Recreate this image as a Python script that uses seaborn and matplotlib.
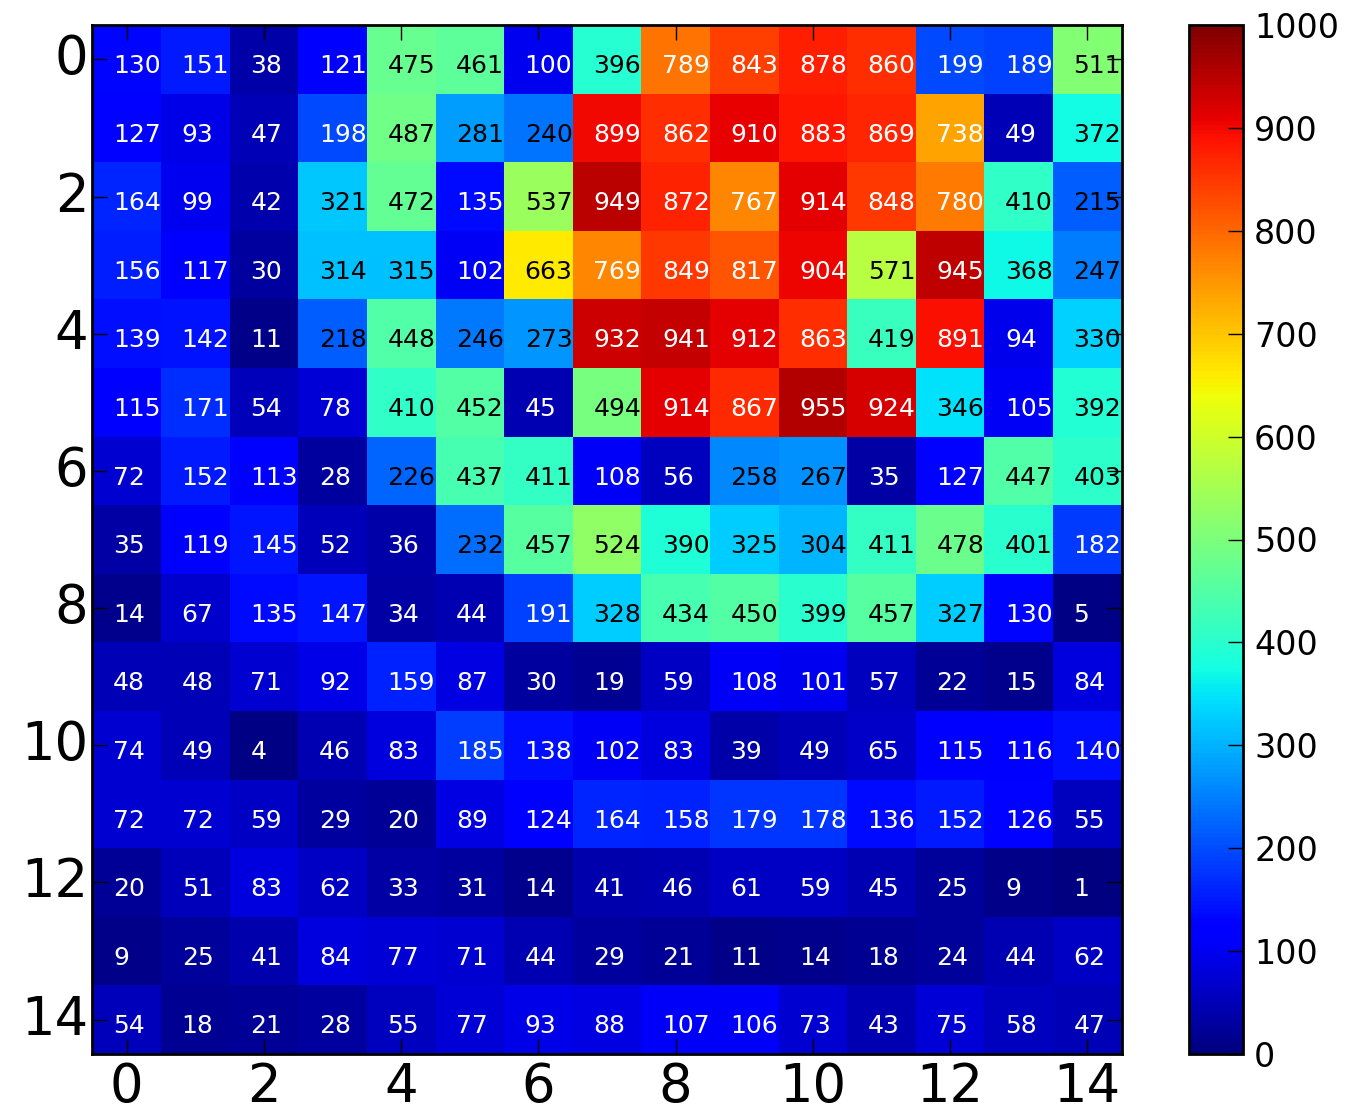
import numpy as np
import pandas as pd
import matplotlib
matplotlib.use("Agg")
import matplotlib.pyplot as plt
import seaborn as sns

row00 = [130, 151, 38, 121, 475, 461, 100, 396, 789, 843, 878, 860, 199, 189, 511]
row01 = [127, 93, 47, 198, 487, 281, 240, 899, 862, 910, 883, 869, 738, 49, 372]
row02 = [164, 99, 42, 321, 472, 135, 537, 949, 872, 767, 914, 848, 780, 410, 215]
row03 = [156, 117, 30, 314, 315, 102, 663, 769, 849, 817, 904, 571, 945, 368, 247]
row04 = [139, 142, 11, 218, 448, 246, 273, 932, 941, 912, 863, 419, 891, 94, 330]
row05 = [115, 171, 54, 78, 410, 452, 45, 494, 914, 867, 955, 924, 346, 105, 392]
row06 = [72, 152, 113, 28, 226, 437, 411, 108, 56, 258, 267, 35, 127, 447, 403]
row07 = [35, 119, 145, 52, 36, 232, 457, 524, 390, 325, 304, 411, 478, 401, 182]
row08 = [14, 67, 135, 147, 34, 44, 191, 328, 434, 450, 399, 457, 327, 130, 5]
row09 = [48, 48, 71, 92, 159, 87, 30, 19, 59, 108, 101, 57, 22, 15, 84]
row10 = [74, 49, 4, 46, 83, 185, 138, 102, 83, 39, 49, 65, 115, 116, 140]
row11 = [72, 72, 59, 29, 20, 89, 124, 164, 158, 179, 178, 136, 152, 126, 55]
row12 = [20, 51, 83, 62, 33, 31, 14, 41, 46, 61, 59, 45, 25, 9, 1]
row13 = [9, 25, 41, 84, 77, 71, 44, 29, 21, 11, 14, 18, 24, 44, 62]
row14 = [54, 18, 21, 28, 55, 77, 93, 88, 107, 106, 73, 43, 75, 58, 47]

rows = [row00, row01, row02, row03, row04, row05, row06, row07,
        row08, row09, row10, row11, row12, row13, row14]
tick_vals = list(range(0, 15, 2))
cbar_ticks = list(range(0, 1001, 100))

data = pd.DataFrame(np.array(rows))
n = data.shape[0]

fig = plt.figure(figsize=(13.69, 11.12), dpi=100)
W, H = 1369, 1112
ax = fig.add_axes([92 / W, (H - 1054) / H, 1030 / W, 1029 / H])
cax = fig.add_axes([1189 / W, (H - 1054) / H, 54 / W, 1029 / H])

sns.heatmap(data, ax=ax, cbar_ax=cax, cmap="jet", vmin=0, vmax=1000,
            square=True, linewidths=0)

for i in range(n):
    for j in range(n):
        v = rows[i][j]
        col = "white" if (v < 200 or v > 700) else "black"
        ax.text(j + 0.5 - 0.2, i + 0.5 + 0.2, str(v), color=col,
                fontsize=18, ha="left", va="baseline")

ax.set_xticks([t + 0.5 for t in tick_vals])
ax.set_xticklabels([str(t) for t in tick_vals], rotation=0)
ax.set_yticks([t + 0.5 for t in tick_vals])
ax.set_yticklabels([str(t) for t in tick_vals], rotation=0)
ax.tick_params(axis="both", which="major", direction="in", length=11, width=1,
               labelsize=38, top=True, right=True, bottom=True, left=True)
ax.tick_params(axis="x", pad=5)
ax.tick_params(axis="y", pad=3)
for s in ax.spines.values():
    s.set_visible(True)
    s.set_linewidth(2)
    s.set_color("black")

cb = ax.collections[0].colorbar
cb.set_ticks(cbar_ticks)
cb.set_ticklabels([str(t) for t in cbar_ticks])
cb.outline.set_linewidth(2)
cb.outline.set_edgecolor("black")
cax.tick_params(direction="in", length=11, width=1, labelsize=24, pad=8,
                right=True, left=False)

fig.savefig("out.png", dpi=100)
